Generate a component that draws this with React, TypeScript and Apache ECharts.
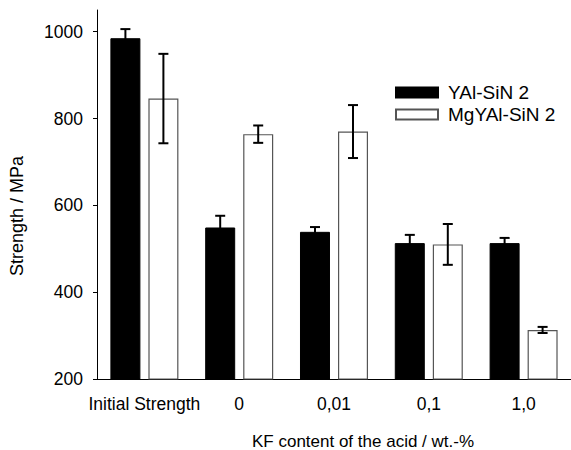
import React, { useEffect, useRef } from "react";
import * as echarts from "echarts";

const categories = ["Initial Strength", "0", "0,01", "0,1", "1,0"];
const yalValues = [985, 549, 539, 513, 513];
const yalErrors = [21, 27, 11, 19, 12];
const mgValues = [846, 764, 770, 510, 313];
const mgErrors = [103, 20, 61, 47, 7];
const yTicks = [200, 400, 600, 800, 1000];

const FONT = "'Liberation Sans', Arial, sans-serif";
const BAR_W = 30;
const HALF_OFFSET = 19;

function errorSeries(values: number[], errors: number[], offset: number, name: string) {
  return {
    type: "custom",
    name: name + "-err",
    z: 10,
    silent: true,
    encode: { x: 0, y: 1 },
    data: values.map((v, i) => [i, v, errors[i]]),
    renderItem: (params: any, api: any) => {
      const c = api.value(0);
      const v = api.value(1);
      const e = api.value(2);
      const hi = api.coord([c, v + e]);
      const lo = api.coord([c, v - e]);
      const x = hi[0] + offset;
      const cap = 5;
      const style = { stroke: "#000", lineWidth: 2 };
      return {
        type: "group",
        children: [
          { type: "line", shape: { x1: x, y1: hi[1], x2: x, y2: lo[1] }, style },
          { type: "line", shape: { x1: x - cap, y1: hi[1], x2: x + cap, y2: hi[1] }, style },
          { type: "line", shape: { x1: x - cap, y1: lo[1], x2: x + cap, y2: lo[1] }, style },
        ],
      };
    },
  };
}

export default function App() {
  const ref = useRef<HTMLDivElement>(null);
  useEffect(() => {
    if (!ref.current) return;
    const chart = echarts.init(ref.current, null, { renderer: "svg" });
    chart.setOption({
      animation: false,
      backgroundColor: "#fff",
      grid: { left: 97, right: -2, top: 10, bottom: 71, containLabel: false },
      legend: {
        orient: "vertical",
        left: 395,
        top: 83,
        padding: 0,
        itemWidth: 42,
        itemHeight: 10,
        itemGap: 3,
        icon: "rect",
        textStyle: { fontSize: 19, color: "#000", fontFamily: FONT, padding: [0, 0, 0, 5] },
        data: ["YAl-SiN 2", "MgYAl-SiN 2"],
      },
      xAxis: {
        type: "category",
        data: categories,
        axisLine: { lineStyle: { color: "#000", width: 1 } },
        axisTick: { alignWithLabel: true, length: 4, lineStyle: { color: "#000" } },
        axisLabel: { fontSize: 17.5, color: "#000", fontFamily: FONT, margin: 16, interval: 0 },
      },
      yAxis: {
        type: "value",
        min: 200,
        max: 1050,
        interval: 200,
        splitLine: { show: false },
        axisLine: { show: true, lineStyle: { color: "#000", width: 1 } },
        axisTick: { show: true, length: 4, lineStyle: { color: "#000" }, customValues: yTicks },
        axisLabel: {
          fontSize: 17.5,
          color: "#000",
          fontFamily: FONT,
          margin: 14,
          customValues: yTicks,
          formatter: (v: number) => String(v),
        },
      },
      graphic: [
        {
          type: "text",
          x: 17,
          y: 216,
          rotation: Math.PI / 2,
          style: {
            text: "Strength / MPa",
            fontSize: 18,
            fontFamily: FONT,
            fill: "#000",
            align: "center",
            verticalAlign: "middle",
          },
        },
        {
          type: "text",
          x: 363,
          y: 441,
          style: {
            text: "KF content of the acid / wt.-%",
            fontSize: 17,
            fontFamily: FONT,
            fill: "#000",
            align: "center",
            verticalAlign: "middle",
          },
        },
      ],
      series: [
        {
          type: "bar",
          name: "YAl-SiN 2",
          data: yalValues,
          barWidth: BAR_W,
          barGap: "26.7%",
          itemStyle: { color: "#000", borderColor: "#000", borderWidth: 1 },
        },
        {
          type: "bar",
          name: "MgYAl-SiN 2",
          data: mgValues,
          barWidth: BAR_W,
          itemStyle: { color: "#fff", borderColor: "#555", borderWidth: 1.2 },
        },
        errorSeries(yalValues, yalErrors, -HALF_OFFSET, "YAl-SiN 2"),
        errorSeries(mgValues, mgErrors, HALF_OFFSET, "MgYAl-SiN 2"),
      ],
    });
    return () => chart.dispose();
  }, []);
  return (
    <div
      ref={ref}
      style={{ position: "fixed", left: 0, top: 0, width: 571, height: 450 }}
    />
  );
}
